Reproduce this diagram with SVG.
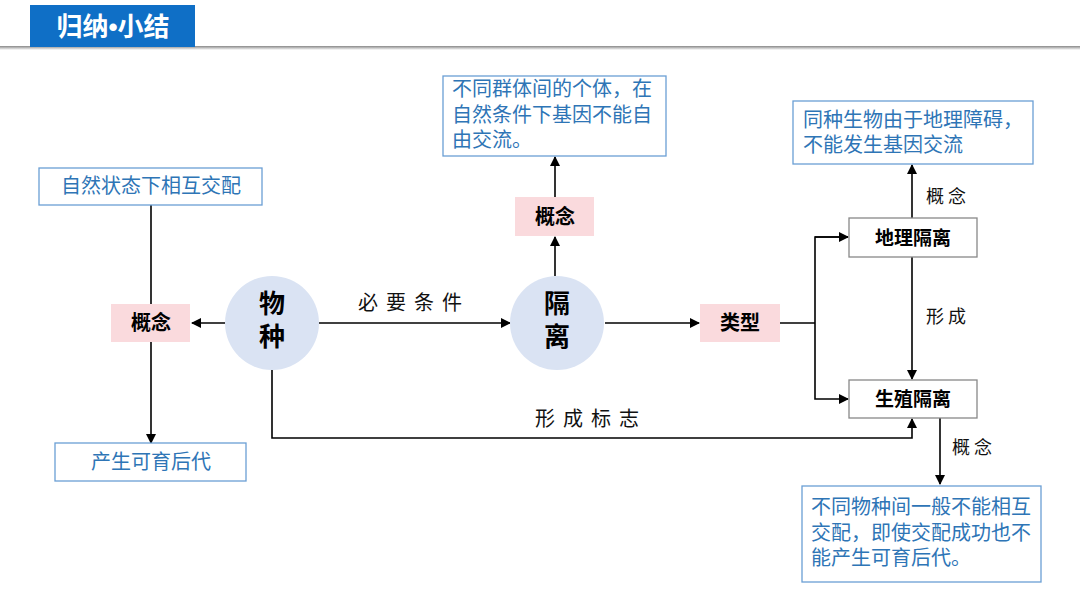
<svg xmlns="http://www.w3.org/2000/svg" width="1080" height="608" viewBox="0 0 1080 608">
<style>
.blue{font-family:"Noto Sans CJK SC","Noto Sans",sans-serif;font-size:20px;fill:#2e75b6}
.bold{font-family:"Noto Sans CJK SC","Noto Sans",sans-serif;font-weight:bold;fill:#000}
.lbl{font-family:"Noto Sans CJK SC","Noto Sans",sans-serif;fill:#111;letter-spacing:8px}
.bbox{fill:#fff;stroke:#6a9fd4;stroke-width:1.3}
.pink{fill:#fadadd}
.gbox{fill:#fff;stroke:#888;stroke-width:1.3}
.circ{fill:#dae3f3}
.ln{fill:none;stroke:#000;stroke-width:1.6}
</style>
<defs>
<marker id="ah" markerWidth="10" markerHeight="10" refX="9" refY="5" orient="auto" markerUnits="userSpaceOnUse">
<path d="M0,0 L10,5 L0,10 Z" fill="#000"/>
</marker>
<linearGradient id="sh" x1="0" y1="0" x2="0" y2="1">
<stop offset="0" stop-color="#888"/><stop offset="1" stop-color="#fff"/>
</linearGradient>
</defs>
<rect width="1080" height="608" fill="#fff"/>
<g id="header">
<rect x="0" y="46" width="1080" height="4" fill="url(#sh)"/>
<rect x="30" y="5" width="165" height="42" fill="#0f6fc6"/>
<text x="113" y="36" text-anchor="middle" font-family="'Noto Sans CJK SC',sans-serif" font-weight="bold" font-size="26" fill="#fff">归纳<tspan font-family="'Liberation Sans',sans-serif">•</tspan>小结</text>
</g>
<g id="connectors">
<line class="ln" x1="151" y1="205" x2="151" y2="304"/>
<line class="ln" x1="151" y1="342" x2="151" y2="443" marker-end="url(#ah)"/>
<line class="ln" x1="225" y1="323" x2="192" y2="323" marker-end="url(#ah)"/>
<line class="ln" x1="319" y1="323" x2="510" y2="323" marker-end="url(#ah)"/>
<line class="ln" x1="555" y1="276" x2="555" y2="237" marker-end="url(#ah)"/>
<line class="ln" x1="555" y1="197" x2="555" y2="157" marker-end="url(#ah)"/>
<line class="ln" x1="605" y1="323" x2="699" y2="323" marker-end="url(#ah)"/>
<line class="ln" x1="780" y1="323" x2="815" y2="323"/>
<polyline class="ln" points="848,237 815,237 815,399 848,399" marker-end="url(#ah)"/>
<line class="ln" x1="815" y1="237" x2="848" y2="237" marker-end="url(#ah)"/>
<line class="ln" x1="912" y1="257" x2="912" y2="379" marker-end="url(#ah)"/>
<line class="ln" x1="912" y1="218" x2="912" y2="165" marker-end="url(#ah)"/>
<line class="ln" x1="940" y1="418" x2="940" y2="484" marker-end="url(#ah)"/>
<polyline class="ln" points="272,370 272,438 912,438 912,419" marker-end="url(#ah)"/>
<text class="lbl" x="358" y="310" font-size="20">必要条件</text>
<text class="lbl" x="535" y="426" font-size="20">形成标志</text>
<text class="lbl" x="926" y="203" font-size="18" style="letter-spacing:4px">概念</text>
<text class="lbl" x="926" y="323" font-size="18" style="letter-spacing:4px">形成</text>
<text class="lbl" x="952" y="454" font-size="18" style="letter-spacing:4px">概念</text>
</g>
<g id="n-natural">
<rect class="bbox" x="39" y="168" width="223" height="37"/>
<text class="blue" x="151" y="193" text-anchor="middle">自然状态下相互交配</text>
</g>
<g id="n-concept1">
<rect class="pink" x="111" y="304" width="79" height="38"/>
<text class="bold" x="151" y="330" font-size="20" text-anchor="middle">概念</text>
</g>
<g id="n-offspring">
<rect class="bbox" x="55" y="443" width="191" height="38"/>
<text class="blue" x="151" y="469" text-anchor="middle">产生可育后代</text>
</g>
<g id="n-species">
<circle class="circ" cx="272" cy="323" r="47"/>
<text class="bold" font-size="26" text-anchor="middle"><tspan x="272" y="313">物</tspan><tspan x="272" y="346">种</tspan></text>
</g>
<g id="n-isolation">
<circle class="circ" cx="557" cy="323" r="47"/>
<text class="bold" font-size="26" text-anchor="middle"><tspan x="557" y="313">隔</tspan><tspan x="557" y="346">离</tspan></text>
</g>
<g id="n-concept2">
<rect class="pink" x="515" y="197" width="79" height="39"/>
<text class="bold" x="555" y="224" font-size="20" text-anchor="middle">概念</text>
</g>
<g id="n-def-isolation">
<rect class="bbox" x="443" y="76" width="223" height="80"/>
<text class="blue"><tspan x="452" y="96">不同群体间的个体，在</tspan><tspan x="452" y="122">自然条件下基因不能自</tspan><tspan x="452" y="147">由交流。</tspan></text>
</g>
<g id="n-type">
<rect class="pink" x="700" y="304" width="80" height="38"/>
<text class="bold" x="740" y="330" font-size="20" text-anchor="middle">类型</text>
</g>
<g id="n-geo">
<rect class="gbox" x="849" y="218" width="128" height="39"/>
<text class="bold" x="913" y="245" font-size="19" text-anchor="middle">地理隔离</text>
</g>
<g id="n-repro">
<rect class="gbox" x="849" y="380" width="128" height="38"/>
<text class="bold" x="913" y="406" font-size="19" text-anchor="middle">生殖隔离</text>
</g>
<g id="n-def-geo">
<rect class="bbox" x="793" y="101" width="240" height="63"/>
<text class="blue"><tspan x="803" y="127">同种生物由于地理障碍，</tspan><tspan x="803" y="152">不能发生基因交流</tspan></text>
</g>
<g id="n-def-repro">
<rect class="bbox" x="802" y="486" width="239" height="96"/>
<text class="blue"><tspan x="811" y="514">不同物种间一般不能相互</tspan><tspan x="811" y="540">交配，即使交配成功也不</tspan><tspan x="811" y="565">能产生可育后代。</tspan></text>
</g>
</svg>
